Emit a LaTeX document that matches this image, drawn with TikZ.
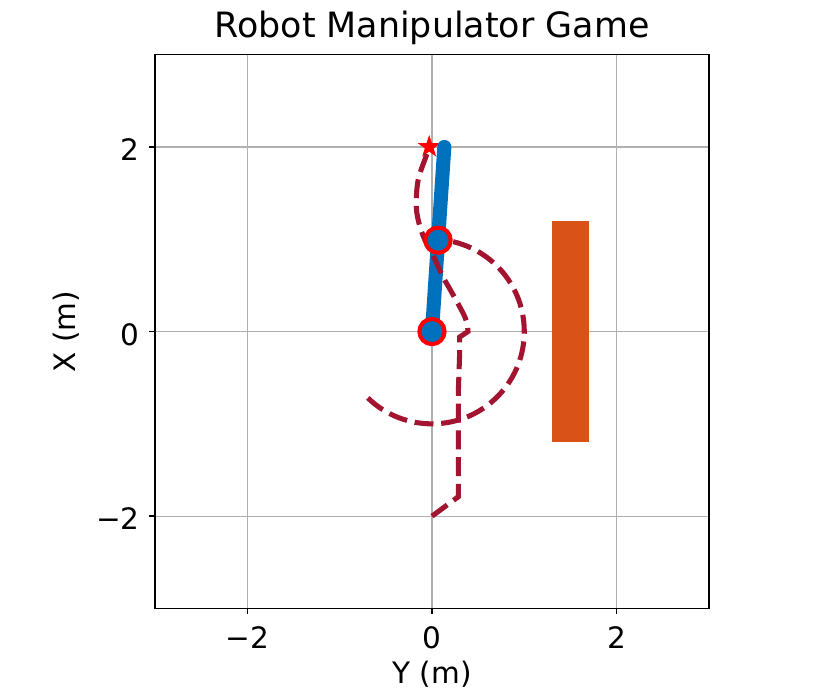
\documentclass[tikz,border=0pt]{standalone}
\usepackage{fontspec}
\setmainfont{DejaVu Sans}
\usetikzlibrary{shapes.geometric}
\definecolor{LinkBlue}{HTML}{0072BD}
\definecolor{WallOrange}{HTML}{D95319}
\definecolor{TrailRed}{HTML}{A2142F}
\definecolor{GridGray}{HTML}{B0B0B0}

\begin{document}
\begin{tikzpicture}[x=2.3075cm, y=2.3075cm,
        trail/.style={TrailRed, line width=3.6pt, dash pattern=on 13.5pt off 5.5pt},
        joint/.style={circle, draw=red, fill=LinkBlue, line width=2.9pt, minimum size=0.63cm, inner sep=0pt},
        ticklabel/.style={font=\fontsize{21}{25}\selectfont, inner sep=0pt}]
                \useasboundingbox (-4.680,-3.906) rectangle (4.323,3.592);
                % grid
                \foreach \t in {-2,0,2} {
                        \draw[GridGray, line width=0.9pt] (\t,-3) -- (\t,3);
                        \draw[GridGray, line width=0.9pt] (-3,\t) -- (3,\t);
                }
                % wall and goal
                \fill[WallOrange] (1.3,-1.2) rectangle (1.7,1.2);
                \node[star, star points=5, star point ratio=2.6, fill=red, inner sep=0pt, minimum size=0.6cm] (goal) at (-0.03,2) {};
                % arm
                \coordinate (base) at (0,0);
                \coordinate (elbow) at (0.066,0.99);
                \coordinate (tip) at (0.134,2.0);
                \draw[LinkBlue, line width=10pt, line cap=round, line join=round] (base) -- (elbow) -- (tip);
                % traces of tip and elbow
                \draw[trail] (0,-2) -- (0.285,-1.79) -- (0.285,-0.67) -- (0.30,-0.23) -- (0.30,-0.06) -- plot[smooth, tension=0.55] coordinates {(0.39,0.0) (0.36,0.15) (0.20,0.45) (0.12,0.59) (0.0,0.85) (-0.06,0.955) (-0.13,1.135) (-0.17,1.35) (-0.15,1.64) (-0.06,1.91) (-0.03,2.0)};
                \draw[trail] (226:1) arc[start angle=226, end angle=446, radius=1];
                \node[joint] (j0) at (base) {};
                \node[joint] (j1) at (elbow) {};
                % axes
                \draw[line width=1.2pt] (-3,-3) rectangle (3,3);
                \foreach \t/\txt in {-2/−2, 0/0, 2/2} {
                        \draw[line width=1.2pt] (-3,\t) -- (-3.065,\t);
                        \draw[line width=1.2pt] (\t,-3) -- (\t,-3.065);
                        \node[ticklabel, anchor=base east] (yt\t) at (-3.164,\t-0.146) {\txt};
                        \node[ticklabel, anchor=base] (xt\t) at (\t,-3.429) {\txt};
                }
                \node[ticklabel, anchor=base] (ylabel) at (0,-3.808) {Y (m)};
                \node[ticklabel, anchor=base, rotate=90] (xlabel) at (-3.857,0) {X (m)};
                \node[font=\fontsize{24.8}{30}\selectfont, inner sep=0pt, anchor=base] (title) at (0,3.187) {Robot Manipulator Game};
\end{tikzpicture}
\end{document}
